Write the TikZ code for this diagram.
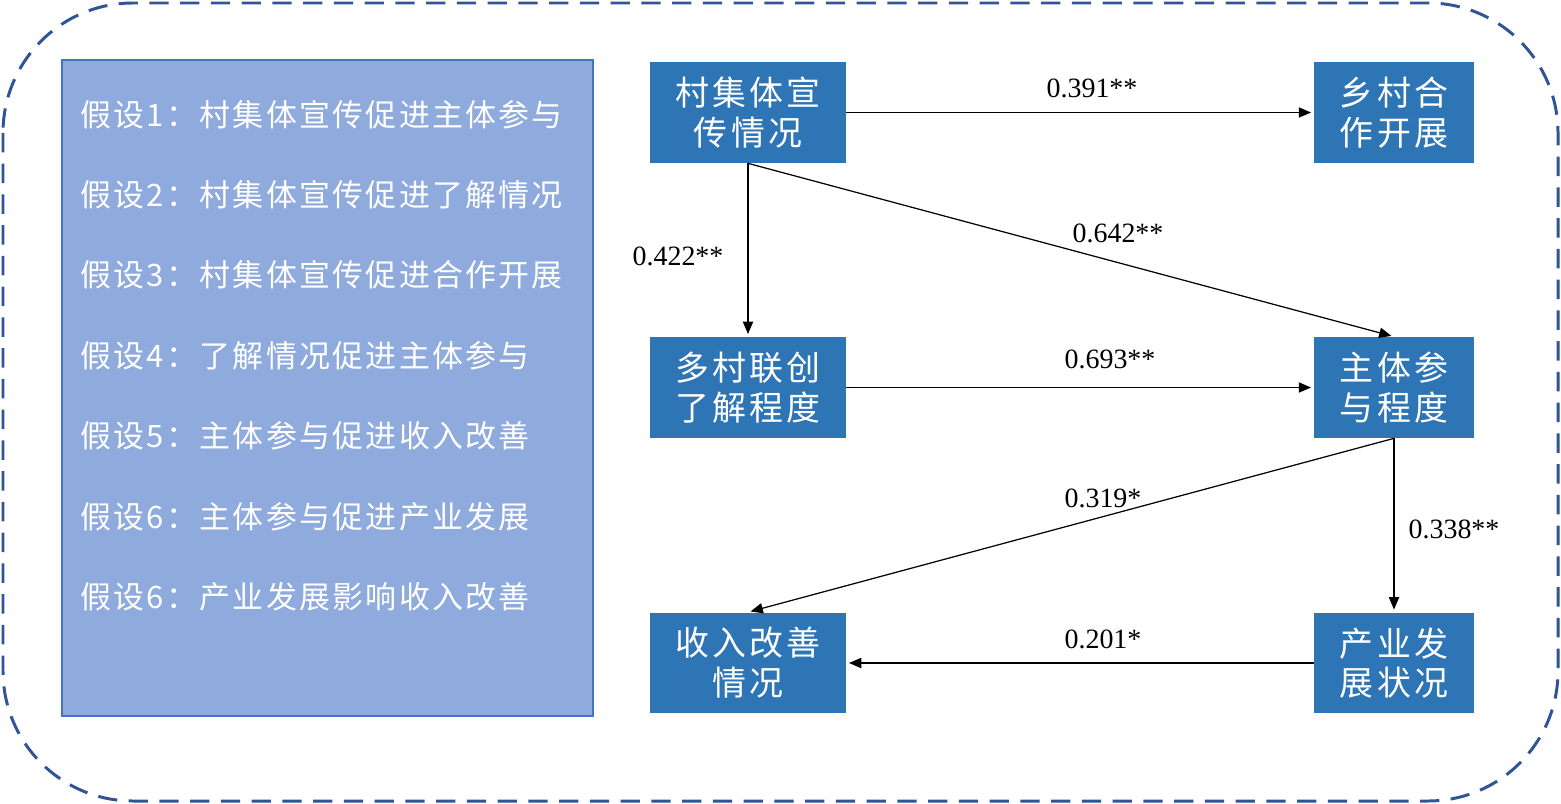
\documentclass[tikz,border=0pt]{standalone}
\usepackage{fontspec}
\setmainfont{Liberation Serif}
\newfontfamily\cjkbox[LetterSpace=10]{Noto Sans CJK SC}
\newfontfamily\cjkhyp[LetterSpace=7.5]{Noto Sans CJK SC}
\usetikzlibrary{arrows.meta}
\definecolor{frameblue}{HTML}{2F5597}
\definecolor{panelfill}{HTML}{8FAADC}
\definecolor{panelline}{HTML}{4472C4}
\definecolor{boxblue}{HTML}{2E75B6}
\tikzset{
  stepbox/.style={fill=boxblue, text=white, inner sep=0pt, align=center,
    minimum height=2.02cm,
    font=\cjkbox\fontsize{19.3}{22.7}\selectfont},
  widebox/.style={stepbox, minimum width=3.92cm},
  narrowbox/.style={stepbox, minimum width=3.2cm},
  hyptext/.style={anchor=west, text=white, inner sep=0pt,
    font=\cjkhyp\fontsize{17.6}{20}\selectfont},
  coef/.style={inner sep=0pt, font=\fontsize{15.9}{18}\selectfont},
  arr/.style={-{Triangle[length=7pt,width=5.8pt]}, line width=0.7pt, shorten >=1.5pt}
}
\begin{document}
\begin{tikzpicture}[x=0.02cm,y=-0.02cm]
\useasboundingbox (0,0) rectangle (1561,804);

% dashed outer frame
\draw[frameblue, line width=1.7pt, dash pattern=on 11pt off 6.5pt,
  rounded corners=2.6cm] (3,3) rectangle (1558,801);

% hypothesis panel
\node (panel) [draw=panelline, line width=1.2pt, fill=panelfill,
  minimum width=10.62cm, minimum height=13.12cm, inner sep=0pt] at (327.5,388) {};
\node (h1) [hyptext] at (80,115) {假设1：村集体宣传促进主体参与};
\node (h2) [hyptext] at (80,195) {假设2：村集体宣传促进了解情况};
\node (h3) [hyptext] at (80,275) {假设3：村集体宣传促进合作开展};
\node (h4) [hyptext] at (80,356) {假设4：了解情况促进主体参与};
\node (h5) [hyptext] at (80,436) {假设5：主体参与促进收入改善};
\node (h6) [hyptext] at (80,517) {假设6：主体参与促进产业发展};
\node (h7) [hyptext] at (80,597) {假设6：产业发展影响收入改善};

% path model boxes
\node (b1) [widebox]   at (748,112.5) {村集体宣\\传情况};
\node (b2) [narrowbox] at (1394,112.5) {乡村合\\作开展};
\node (b3) [widebox]   at (748,387.5) {多村联创\\了解程度};
\node (b4) [narrowbox] at (1394,387.5) {主体参\\与程度};
\node (b5) [widebox]   at (748,663) {收入改善\\情况};
\node (b6) [narrowbox] at (1394,663) {产业发\\展状况};

% paths
\draw[arr] (b1.east) -- (b2.west);
\draw[arr] (b1.south) -- (b3.north);
\draw[arr] (b1.south) -- (b4.north);
\draw[arr] (b3.east) -- (b4.west);
\draw[arr] (b4.south) -- (b5.north);
\draw[arr] (b4.south) -- (b6.north);
\draw[arr] (b6.west) -- (b5.east);

% path coefficients
\node (c1) [coef] at (1092,88) {0.391**};
\node (c2) [coef] at (678,256) {0.422**};
\node (c3) [coef] at (1118,233) {0.642**};
\node (c4) [coef] at (1110,359) {0.693**};
\node (c5) [coef] at (1103,498) {0.319*};
\node (c6) [coef] at (1454,529) {0.338**};
\node (c7) [coef] at (1103,639) {0.201*};
\end{tikzpicture}
\end{document}
